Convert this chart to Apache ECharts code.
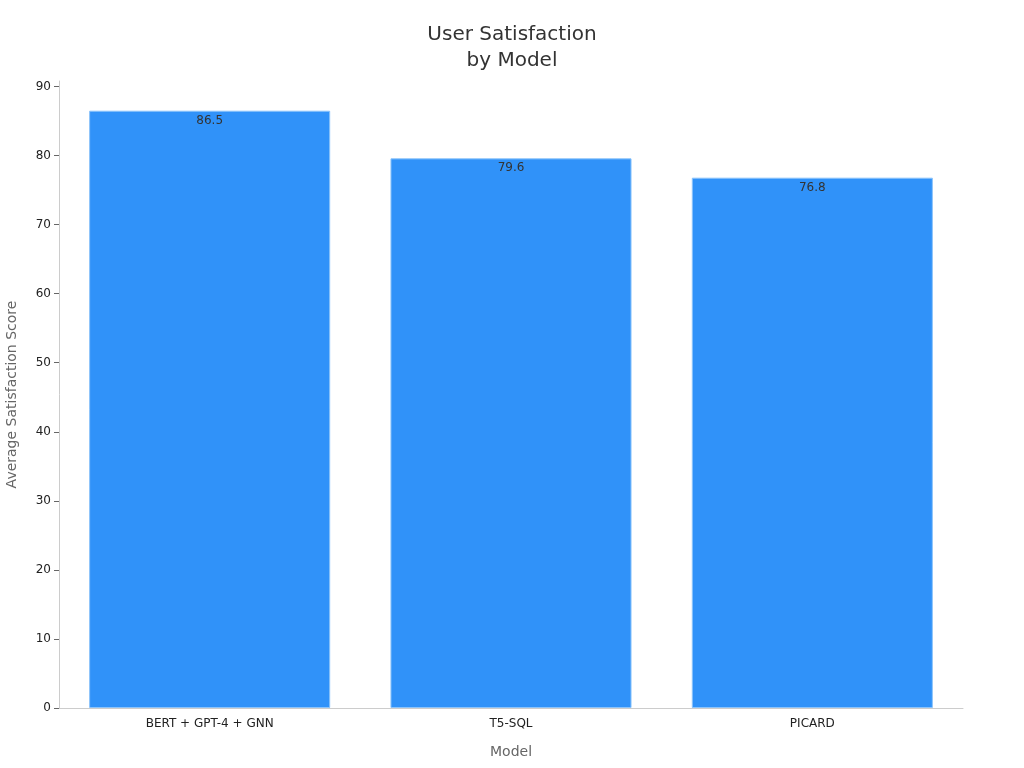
<!DOCTYPE html>
<html>
<head>
<meta charset="utf-8">
<script src="https://cdn.jsdelivr.net/npm/echarts@6/dist/echarts.min.js"></script>
<style>
  html, body { margin: 0; padding: 0; background: #fff; }
  #chart { width: 1024px; height: 768px; }
</style>
</head>
<body>
<div id="chart"></div>
<script>
const models = ["BERT + GPT-4 + GNN", "T5-SQL", "PICARD"];
const scores = [86.5, 79.6, 76.8];
const yTicks = [0, 10, 20, 30, 40, 50, 60, 70, 80, 90];

const chart = echarts.init(document.getElementById("chart"));
chart.setOption({
  animation: false,
  textStyle: { fontFamily: "DejaVu Sans" },
  title: {
    text: "User Satisfaction\nby Model",
    left: "center",
    top: 17,
    textStyle: { fontSize: 20, fontWeight: "normal", color: "#333", lineHeight: 26 },
  },
  grid: { left: 59, right: 61, top: 81, bottom: 60, outerBoundsMode: "none", containLabel: false },
  xAxis: {
    type: "category",
    data: models,
    name: "Model",
    nameLocation: "middle",
    nameGap: 37,
    nameTextStyle: { fontSize: 14, color: "#666" },
    axisLine: { lineStyle: { color: "#ccc" } },
    axisTick: { alignWithLabel: true, length: 5, lineStyle: { color: "#666" } },
    axisLabel: { fontSize: 12, color: "#222", margin: 10 },
  },
  yAxis: {
    type: "value",
    min: 0,
    max: 90.8,
    interval: 10,
    name: "Average Satisfaction Score",
    nameLocation: "middle",
    nameGap: 40,
    nameTextStyle: { fontSize: 14, color: "#666" },
    axisLine: { show: true, lineStyle: { color: "#ccc" } },
    axisTick: { show: true, length: 5, lineStyle: { color: "#666" }, customValues: yTicks },
    axisLabel: { fontSize: 12, color: "#222", margin: 8, customValues: yTicks },
    splitLine: { show: false },
  },
  series: [{
    type: "bar",
    data: scores,
    barCategoryGap: "20%",
    itemStyle: { color: "#3092F9", borderColor: "#8cc4fb", borderWidth: 1 },
    label: {
      show: true,
      position: "insideTop",
      distance: 4,
      fontSize: 12,
      color: "#333",
    },
  }],
});
</script>
</body>
</html>
